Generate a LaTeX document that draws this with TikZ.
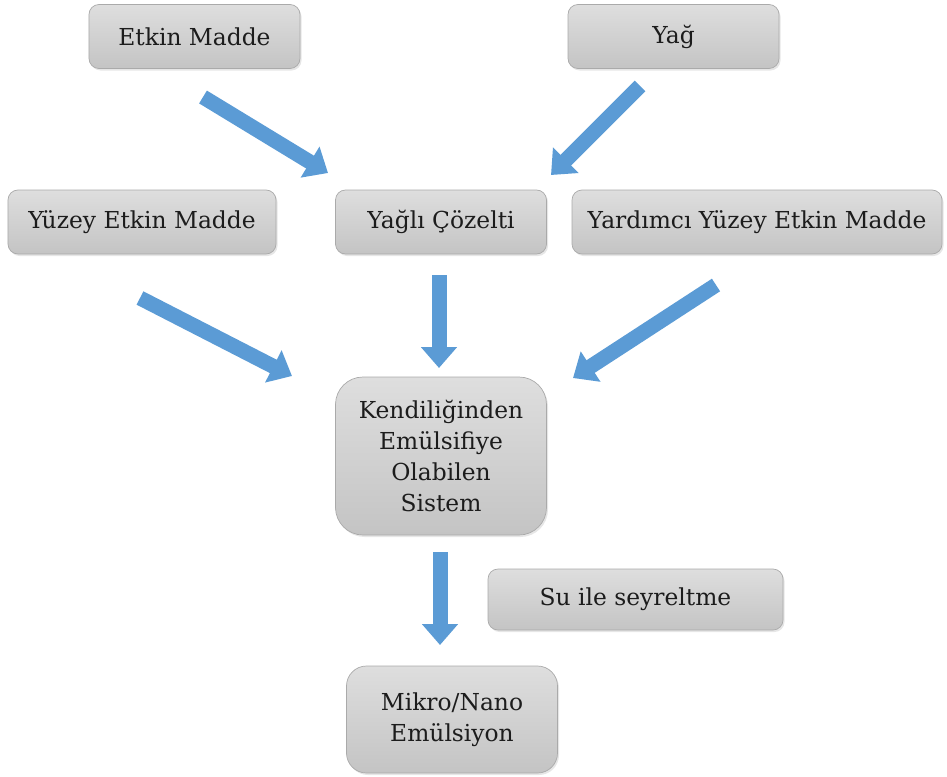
\documentclass[tikz,border=0pt]{standalone}
\usepackage{fontspec}
\setmainfont{DejaVu Serif}
\usetikzlibrary{arrows.meta, shadows}

\definecolor{okmavi}{RGB}{91,155,213}
\definecolor{kutukenar}{RGB}{170,170,170}
\definecolor{kutuust}{RGB}{222,222,222}
\definecolor{kutualt}{RGB}{196,196,196}
\definecolor{yazi}{RGB}{28,28,28}

\begin{document}
\begin{tikzpicture}[x=0.2mm, y=-0.2mm,
  kutu/.style={draw=kutukenar, top color=kutuust, bottom color=kutualt,
    rounded corners=2mm, text=yazi, align=center, inner sep=0pt,
    font=\fontsize{13.3}{17.8}\selectfont,
    minimum width=42.2mm, minimum height=12.8mm,
    drop shadow={opacity=0.2, shadow xshift=0.3mm, shadow yshift=-0.4mm}},
  ok/.style={line width=3mm, okmavi, -{Triangle[width=7mm,length=4.2mm]}}
]
  \useasboundingbox (0,0) rectangle (947,776);

  % kutular
  \node[kutu] (etkin) at (194.5,36.5) {Etkin Madde};
  \node[kutu] (yag) at (673.5,36.5) {Yağ};
  \node[kutu, minimum width=53.6mm] (yuzey) at (142,222) {Yüzey Etkin Madde};
  \node[kutu] (yagli) at (441,222) {Yağlı Çözelti};
  \node[kutu, minimum width=74mm] (yardimci) at (757,222) {Yardımcı Yüzey Etkin Madde};
  \node[kutu, minimum height=31.6mm, rounded corners=5.5mm] (sistem) at (441,456)
    {Kendiliğinden\\Emülsifiye\\Olabilen\\Sistem};
  \node[kutu, minimum width=59mm, minimum height=12.2mm] (su) at (635.5,599.5) {Su ile seyreltme};
  \node[kutu, minimum height=21.4mm, rounded corners=4mm] (mikro) at (452,719.5)
    {Mikro/Nano\\Emülsiyon};

  % ok uclari
  \coordinate (o1a) at (203,97);  \coordinate (o1b) at (328,173);
  \coordinate (o2a) at (640,86);  \coordinate (o2b) at (551,175);
  \coordinate (o3a) at (140,298); \coordinate (o3b) at (292,376);
  \coordinate (o4a) at (439,275); \coordinate (o4b) at (439,368);
  \coordinate (o5a) at (716,285); \coordinate (o5b) at (573,378);
  \coordinate (o6a) at (440,552); \coordinate (o6b) at (440,645);

  \foreach \a/\b in {o1a/o1b, o2a/o2b, o3a/o3b, o4a/o4b, o5a/o5b, o6a/o6b}
    \draw[ok] (\a) -- (\b);
\end{tikzpicture}
\end{document}
